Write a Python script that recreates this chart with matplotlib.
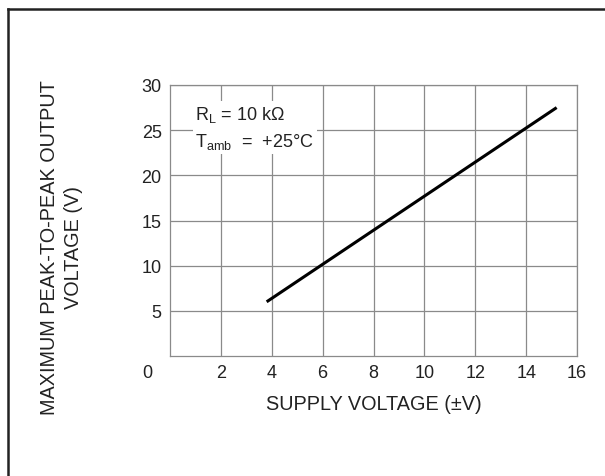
import matplotlib.pyplot as plt
from matplotlib.lines import Line2D

plt.rcParams['font.family'] = ['Liberation Sans', 'DejaVu Sans']

# data
supply_v = [3.8, 15.2]
vpp_max = [6.0, 27.5]
x_ticks = [2, 4, 6, 8, 10, 12, 14, 16]
y_ticks = [5, 10, 15, 20, 25, 30]

fig = plt.figure(figsize=(6.05, 4.77), dpi=100)

# outer frame (only top and left edges visible in the crop)
fig.add_artist(Line2D([8 / 605, 8 / 605], [0, 1 - 10 / 477], transform=fig.transFigure,
                      color='#222222', lw=1.8))
fig.add_artist(Line2D([8 / 605, 1], [1 - 10 / 477, 1 - 10 / 477], transform=fig.transFigure,
                      color='#222222', lw=1.8))

ax = fig.add_axes([170 / 605, 1 - 357 / 477, 407 / 605, 271 / 477])
ax.plot(supply_v, vpp_max, color='black', lw=2.2, solid_capstyle='butt', zorder=3)

ax.set_xlim(0, 16)
ax.set_ylim(0, 30)
ax.set_xticks(x_ticks)
ax.set_yticks(y_ticks)
ax.tick_params(length=0, labelsize=13, colors='#222222')
ax.tick_params(axis='x', pad=6)
ax.tick_params(axis='y', pad=6)
ax.grid(True, color='#8a8a8a', lw=0.9)
for s in ax.spines.values():
    s.set_color('#8a8a8a')
    s.set_linewidth(0.9)

ax.annotate('0', xy=(0, 0), xycoords='data', xytext=(-16, -6), textcoords='offset points',
            ha='center', va='top', fontsize=13, color='#222222')

ax.set_xlabel('SUPPLY VOLTAGE (±V)', fontsize=14.3, color='#222222')
ax.xaxis.set_label_coords(0.5, -0.14)
ax.set_ylabel('MAXIMUM PEAK-TO-PEAK OUTPUT\nVOLTAGE (V)', fontsize=14.3, color='#222222',
              linespacing=1.38)
ax.yaxis.set_label_coords(-0.213, 0.405)

ax.text(1.0, 25.3, 'R$_\\mathregular{L}$ = 10 kΩ\nT$_\\mathregular{amb}$  =  +25°C',
        fontsize=13, color='#222222', ha='left', va='center', linespacing=1.45,
        bbox=dict(facecolor='white', edgecolor='none', pad=2), zorder=4)

fig.savefig('out.png', dpi=100)
